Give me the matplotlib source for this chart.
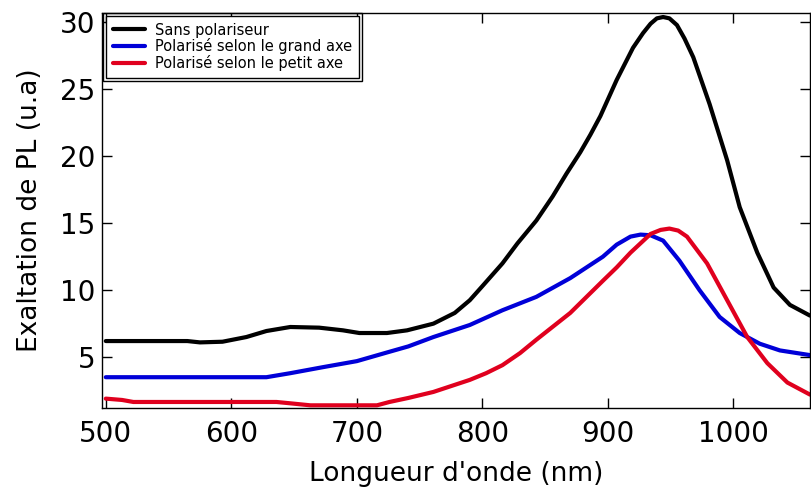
import matplotlib
matplotlib.use("Agg")
import matplotlib.pyplot as plt
from matplotlib.patches import Rectangle

# DATA
wl_black = [500, 565, 575, 593, 612, 628, 647, 670, 689, 702, 724, 740, 761, 778, 790, 800,
            816, 828, 843, 856, 867, 878, 886, 894, 907, 920, 928, 934, 939, 944, 949, 955,
            961, 968, 981, 995, 1005, 1019, 1032, 1045, 1061]
pl_black = [6.2, 6.2, 6.1, 6.15, 6.5, 6.95, 7.25, 7.2, 7.0, 6.8, 6.8, 7.0, 7.5, 8.3, 9.25, 10.3,
            12.0, 13.5, 15.2, 17.0, 18.7, 20.3, 21.6, 23.0, 25.7, 28.1, 29.2, 29.9, 30.3, 30.4, 30.3, 29.8,
            28.8, 27.4, 23.9, 19.7, 16.2, 12.8, 10.2, 8.9, 8.1]

wl_blue = [500, 628, 647, 673, 700, 726, 741, 761, 790, 816, 843, 870, 896, 907, 918, 926,
           934, 944, 957, 973, 989, 1005, 1021, 1037, 1061]
pl_blue = [3.5, 3.5, 3.8, 4.25, 4.7, 5.4, 5.8, 6.5, 7.4, 8.5, 9.5, 10.9, 12.5, 13.4, 14.0, 14.15,
           14.1, 13.7, 12.2, 10.0, 8.0, 6.8, 6.0, 5.5, 5.15]

wl_red = [500, 513, 522, 636, 647, 663, 716, 726, 741, 761, 790, 803, 816, 830, 843, 870,
          896, 907, 918, 934, 942, 949, 956, 963, 979, 995, 1011, 1027, 1043, 1061]
pl_red = [1.9, 1.8, 1.65, 1.65, 1.55, 1.4, 1.4, 1.65, 1.95, 2.4, 3.3, 3.8, 4.4, 5.3, 6.3, 8.3,
          10.7, 11.7, 12.8, 14.2, 14.5, 14.6, 14.45, 14.0, 12.0, 9.25, 6.5, 4.55, 3.1, 2.2]

labels = ["Sans polariseur", "Polarisé selon le grand axe", "Polarisé selon le petit axe"]
x_ticks = [500, 600, 700, 800, 900, 1000]
y_ticks = [5, 10, 15, 20, 25, 30]

plt.rcParams['font.family'] = ['DejaVu Sans']

fig = plt.figure(figsize=(8.11, 4.93), dpi=100)
ax = fig.add_axes([102 / 811, 85 / 493, 708 / 811, 395 / 493])

line_kw = dict(lw=3, solid_joinstyle='round', solid_capstyle='round')
ax.plot(wl_black, pl_black, color='black', label=labels[0], **line_kw)
ax.plot(wl_blue, pl_blue, color='#0000d8', label=labels[1], **line_kw)
ax.plot(wl_red, pl_red, color='#e0001e', label=labels[2], **line_kw)

ax.set_xlim(497, 1061)
ax.set_ylim(1.2, 30.7)
ax.set_xticks(x_ticks)
ax.set_yticks(y_ticks)
ax.tick_params(direction='in', top=True, right=True, length=7, width=1, labelsize=20)
ax.tick_params(axis='x', pad=9)
ax.tick_params(axis='y', pad=5)
for s in ax.spines.values():
    s.set_linewidth(1)

ax.set_xlabel("Longueur d'onde (nm)", fontsize=19)
ax.set_ylabel("Exaltation de PL (u.a)", fontsize=19)
ax.xaxis.set_label_coords(0.5, -0.135)
ax.yaxis.set_label_coords(-0.083, 0.5)

leg = ax.legend(loc='upper left', bbox_to_anchor=(4 / 708, 1 - 3 / 395), fontsize=10.5,
                labelspacing=0.05, handlelength=2.2, handletextpad=0.7,
                borderpad=0.45, borderaxespad=0, fancybox=False, framealpha=1)
leg.get_frame().set_edgecolor('black')
leg.get_frame().set_linewidth(1)

# outer line of the double legend frame
fig.canvas.draw()
bb = leg.get_window_extent().transformed(ax.transAxes.inverted())
pad_x = 3 / 708
pad_y = 3 / 395
ax.add_patch(Rectangle((bb.x0 - pad_x, bb.y0 - pad_y), bb.width + 2 * pad_x, bb.height + 2 * pad_y,
                       transform=ax.transAxes, fill=False, edgecolor='black', lw=1,
                       clip_on=False, zorder=6))

fig.savefig("out.png", dpi=100)
